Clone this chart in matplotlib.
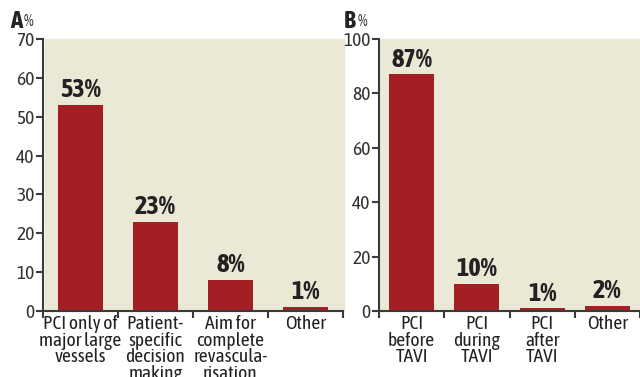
import numpy as np
import matplotlib
matplotlib.use('Agg')
from matplotlib import pyplot as plt
from matplotlib import font_manager

# find a condensed face, preferably one that also has a bold weight
fonts = font_manager.fontManager.ttflist
narrow = sorted({f.name for f in fonts if 'Narrow' in f.name or 'Condensed' in f.name})
with_bold = [n for n in narrow
             if any(f.name == n and (f.weight in ('bold', 'heavy', 'black', 'semibold', 'demibold')
                                     or (isinstance(f.weight, int) and f.weight >= 600))
                    for f in fonts)]
pick = with_bold or narrow
if pick:
    plt.rcParams['font.family'] = [pick[0], 'DejaVu Sans']
    scale = 1.12
else:
    plt.rcParams['font.family'] = ['Liberation Sans', 'DejaVu Sans']
    scale = 0.85

# Panel A data
a_labels = ['PCI only of\nmajor large\nvessels', 'Patient-\nspecific\ndecision\nmaking',
            'Aim for\ncomplete\nrevascula-\nrisation', 'Other']
a_values = [53, 23, 8, 1]

# Panel B data
b_labels = ['PCI\nbefore\nTAVI', 'PCI\nduring\nTAVI', 'PCI\nafter\nTAVI', 'Other']
b_values = [87, 10, 1, 2]

bar_c = '#A31F24'
bg_c = '#ECE8D6'
ax_c = '#3a3a3a'

W, H = 640, 377
fig = plt.figure(figsize=(W / 100, H / 100), dpi=100)


def make_panel(rect, labels, values, ymax, ystep, xright, width, letter, letter_x):
    ax = fig.add_axes(rect)
    x = np.arange(len(values))
    ax.bar(x, values, width=width, color=bar_c, zorder=2)
    ax.set_facecolor('none')
    ax.set_xlim(-0.5, xright)
    ax.set_ylim(0, ymax)
    ax.set_yticks(np.arange(0, ymax + 1, ystep))
    ax.set_xticks(x)
    ax.set_xticklabels(labels, fontsize=12.5 * scale, linespacing=0.9, va='top')
    ax.set_xticks(np.arange(-0.5, len(values) + 0.5, 1), minor=True)
    ax.tick_params(axis='x', which='major', length=0, pad=3, colors='#222222')
    ax.tick_params(axis='x', which='minor', length=5, width=1.5, color=ax_c, direction='out')
    ax.tick_params(axis='y', length=5, width=1.5, color=ax_c, labelsize=12.5 * scale, pad=1,
                   labelcolor='#333333')
    for s in ['top', 'right']:
        ax.spines[s].set_visible(False)
    for s in ['left', 'bottom']:
        ax.spines[s].set_color(ax_c)
        ax.spines[s].set_linewidth(1.5)
    for xi, v in zip(x, values):
        ax.annotate(f'{v}%', (xi, v), xytext=(0, 2), textcoords='offset points',
                    ha='center', va='bottom', fontsize=17 * scale, fontweight='bold',
                    color='#222222')
    fig.text(letter_x / W, 1 - 22 / H, letter, fontsize=16 * scale, fontweight='bold',
             color='#222222', va='center', ha='left')
    fig.text((letter_x + 14) / W, 1 - 22 / H, '%', fontsize=10 * scale, color='#333333',
             va='center', ha='left')
    return ax


# beige backgrounds
fig.patches.append(plt.Rectangle((45 / W, 66 / H), 299 / W, 272 / H, transform=fig.transFigure,
                                 color=bg_c, zorder=-1))
fig.patches.append(plt.Rectangle((379 / W, 66 / H), 261 / W, 272 / H, transform=fig.transFigure,
                                 color=bg_c, zorder=-1))

bot = 66 / H
top = 338 / H
make_panel([43 / W, bot, 300 / W, top - bot], a_labels, a_values, 70, 10, 3.5, 0.61, 'A', 10)
make_panel([379 / W, bot, 261 / W, top - bot], b_labels, b_values, 100, 20, 3.4, 0.69, 'B', 344)

plt.savefig('out.png', dpi=100)
